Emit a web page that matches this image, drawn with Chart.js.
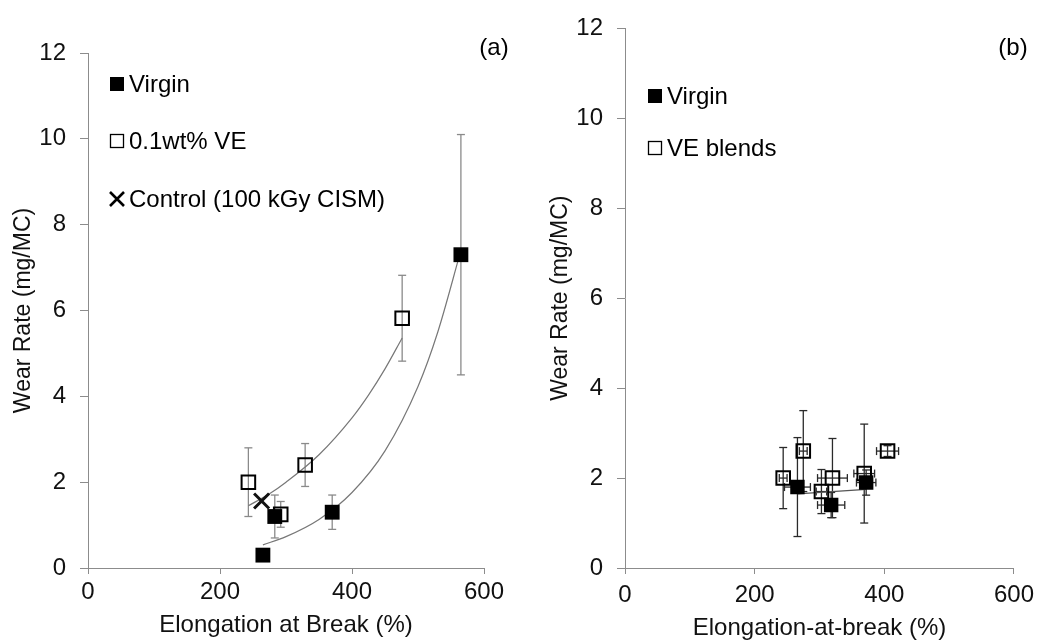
<!DOCTYPE html>
<html>
<head>
<meta charset="utf-8">
<script src="https://cdn.jsdelivr.net/npm/chart.js@4.4.0/dist/chart.umd.min.js"></script>
<style>
  html, body { margin: 0; padding: 0; background: #fff; }
  #wrap { position: relative; width: 1041px; height: 640px; }
  .panel { position: absolute; top: 0; height: 640px; }
</style>
</head>
<body>
<div id="wrap">
  <div class="panel" style="left:0;width:520px"><canvas id="chartA" width="520" height="640"></canvas></div>
  <div class="panel" style="left:520px;width:521px"><canvas id="chartB" width="521" height="640"></canvas></div>
</div>
<script>
// ---- panel (a) ----
const virginA_x = [265, 283, 370, 565];
const virginA_y = [0.3, 1.2, 1.3, 7.3];
const virginA_err = [0, 0.5, 0.4, 2.8];

const veA_x = [243, 292, 329, 476];
const veA_y = [2.0, 1.25, 2.4, 5.82];
const veA_err = [0.8, 0.3, 0.5, 1.0];

const controlA_x = [263];
const controlA_y = [1.56];

// trend curves
const virginTrend_x = [265, 300, 350, 400, 450, 500, 530, 565];
const virginTrend_y = [0.54, 0.73, 1.13, 1.76, 2.73, 4.23, 5.5, 7.4];
const veTrend_x = [243, 275, 300, 350, 400, 425, 450, 476];
const veTrend_y = [1.45, 1.73, 2.0, 2.64, 3.5, 4.03, 4.64, 5.36];

// ---- panel (b) ----
const virginB_x = [266, 318, 372];
const virginB_y = [1.8, 1.4, 1.9];
const virginB_yErr = [1.1, 0.28, 0.28];
const virginB_xErr = [20, 21, 15];

const veB_x = [244, 275, 303, 320, 369, 405];
const veB_y = [2.0, 2.6, 1.7, 2.0, 2.1, 2.6];
const veB_yErr = [0.68, 0.9, 0.49, 0.88, 1.1, 0.12];
const veB_xErr = [6, 6, 8, 23, 16, 17];

const virginBTrend_x = [266, 372];
const virginBTrend_y = [1.65, 1.75];

const xTicks = [0, 200, 400, 600];
const yTicks = [0, 2, 4, 6, 8, 10, 12];

const FONT = "'Liberation Sans', Arial, sans-serif";
const AXIS_GREY = '#8c8c8c';
const pts = (xs, ys) => xs.map((v, i) => ({ x: v, y: ys[i] }));

const errorBars = {
  id: 'errorBars',
  beforeDatasetsDraw(chart) {
    const { ctx, scales: { x, y } } = chart;
    const seg = (a, b, c, d) => { ctx.beginPath(); ctx.moveTo(a, b); ctx.lineTo(c, d); ctx.stroke(); };
    chart.data.datasets.forEach((ds) => {
      if (!ds.yErr && !ds.xErr) return;
      ctx.save();
      ctx.strokeStyle = ds.errColor;
      ctx.lineWidth = 1.3;
      const cap = 4;
      ds.data.forEach((p, i) => {
        const px = x.getPixelForValue(p.x);
        const py = y.getPixelForValue(p.y);
        const ey = ds.yErr ? ds.yErr[i] : 0;
        const ex = ds.xErr ? ds.xErr[i] : 0;
        if (ey) {
          const t = y.getPixelForValue(p.y + ey);
          const b = y.getPixelForValue(p.y - ey);
          seg(px, t, px, b);
          seg(px - cap, t, px + cap, t);
          seg(px - cap, b, px + cap, b);
        }
        if (ex) {
          const l = x.getPixelForValue(p.x - ex);
          const r = x.getPixelForValue(p.x + ex);
          seg(l, py, r, py);
          seg(l, py - cap, l, py + cap);
          seg(r, py - cap, r, py + cap);
        }
      });
      ctx.restore();
    });
  }
};

const panelLegend = {
  id: 'panelLegend',
  afterDraw(chart, args, opts) {
    const ctx = chart.ctx;
    ctx.save();
    ctx.font = '24px ' + FONT;
    ctx.fillStyle = '#000';
    ctx.textBaseline = 'middle';
    ctx.textAlign = 'left';
    opts.items.forEach((it) => {
      const sx = opts.x, sy = it.y;
      if (it.kind === 'filled') {
        ctx.fillRect(sx, sy - 7, 14, 14);
      } else if (it.kind === 'open') {
        ctx.lineWidth = 1.3;
        ctx.strokeStyle = '#000';
        ctx.strokeRect(sx + 0.5, sy - 6.5, 13, 13);
      } else {
        ctx.lineWidth = 2.6;
        ctx.strokeStyle = '#000';
        ctx.beginPath();
        ctx.moveTo(sx, sy - 7); ctx.lineTo(sx + 14, sy + 7);
        ctx.moveTo(sx + 14, sy - 7); ctx.lineTo(sx, sy + 7);
        ctx.stroke();
      }
      ctx.fillText(it.text, sx + 19, sy + 1);
    });
    ctx.textAlign = 'center';
    ctx.fillText(opts.tag.text, opts.tag.x, opts.tag.y);
    ctx.restore();
  }
};

function axisOptions(cfg) {
  const tickFont = { family: FONT, size: 24 };
  return {
    x: {
      type: 'linear', min: 0, max: 600,
      afterBuildTicks: (s) => { s.ticks = xTicks.map((v) => ({ value: v })); },
      ticks: { font: tickFont, color: '#111', padding: cfg.xTickPad, maxRotation: 0 },
      grid: { drawOnChartArea: false, tickLength: 6, color: AXIS_GREY },
      border: { color: AXIS_GREY, width: 1 },
      title: { display: true, text: cfg.xTitle, color: '#111',
               font: { family: FONT, size: 24, lineHeight: 1 }, padding: { top: 0, bottom: cfg.xTitlePad } },
      afterFit: (s) => { s.height = 72; }
    },
    y: {
      type: 'linear', min: 0, max: 12,
      afterBuildTicks: (s) => { s.ticks = yTicks.map((v) => ({ value: v })); },
      ticks: { font: tickFont, color: '#111', padding: 14 },
      grid: { drawOnChartArea: false, tickLength: 8, color: AXIS_GREY },
      border: { color: AXIS_GREY, width: 1 },
      title: { display: true, text: 'Wear Rate (mg/MC)', color: '#111',
               font: { family: FONT, size: 23, lineHeight: 1.2 }, padding: { top: cfg.yTitlePad, bottom: 0 } },
      afterFit: (s) => { s.width = cfg.yWidth; }
    }
  };
}

function baseOptions(cfg) {
  return {
    responsive: false,
    animation: false,
    devicePixelRatio: 1,
    layout: { padding: { left: 0, right: cfg.padRight, top: cfg.padTop, bottom: 0 } },
    plugins: {
      legend: { display: false },
      tooltip: { enabled: false },
      panelLegend: cfg.legend
    },
    scales: axisOptions(cfg)
  };
}

new Chart(document.getElementById('chartA'), {
  type: 'scatter',
  data: {
    datasets: [
      { label: 'Control (100 kGy CISM)', data: pts(controlA_x, controlA_y),
        pointStyle: 'crossRot', pointRadius: 10.6, borderColor: '#111', borderWidth: 3, backgroundColor: '#111' },
      { label: 'Virgin', data: pts(virginA_x, virginA_y), yErr: virginA_err, errColor: '#8a8a8a',
        pointStyle: 'rect', pointRadius: 10.5, backgroundColor: '#000', borderColor: '#000', borderWidth: 0 },
      { label: '0.1wt% VE', data: pts(veA_x, veA_y), yErr: veA_err, errColor: '#8a8a8a',
        pointStyle: 'rect', pointRadius: 9.6, backgroundColor: 'rgba(0,0,0,0)', borderColor: '#000', borderWidth: 2 },
      { label: 'Virgin trend', data: pts(virginTrend_x, virginTrend_y), showLine: true,
        cubicInterpolationMode: 'monotone', pointRadius: 0, borderColor: '#777', borderWidth: 1.2 },
      { label: 'VE trend', data: pts(veTrend_x, veTrend_y), showLine: true,
        cubicInterpolationMode: 'monotone', pointRadius: 0, borderColor: '#777', borderWidth: 1.2 }
    ]
  },
  options: baseOptions({
    padRight: 36, padTop: 53, yWidth: 88, xTickPad: 4, xTitlePad: 3, yTitlePad: 9.5,
    xTitle: 'Elongation at Break (%)',
    legend: {
      x: 110,
      items: [
        { kind: 'filled', text: 'Virgin', y: 84 },
        { kind: 'open', text: '0.1wt% VE', y: 141 },
        { kind: 'cross', text: 'Control (100 kGy CISM)', y: 199 }
      ],
      tag: { text: '(a)', x: 494, y: 48 }
    }
  }),
  plugins: [errorBars, panelLegend]
});

new Chart(document.getElementById('chartB'), {
  type: 'scatter',
  data: {
    datasets: [
      { label: 'Virgin', data: pts(virginB_x, virginB_y), yErr: virginB_yErr, xErr: virginB_xErr, errColor: '#2a2a2a',
        pointStyle: 'rect', pointRadius: 10.2, backgroundColor: '#000', borderColor: '#000', borderWidth: 0 },
      { label: 'VE blends', data: pts(veB_x, veB_y), yErr: veB_yErr, xErr: veB_xErr, errColor: '#2a2a2a',
        pointStyle: 'rect', pointRadius: 9.6, backgroundColor: 'rgba(0,0,0,0)', borderColor: '#000', borderWidth: 2 },
      { label: 'Virgin trend', data: pts(virginBTrend_x, virginBTrend_y), showLine: true,
        pointRadius: 0, borderColor: '#555', borderWidth: 1.2 }
    ]
  },
  options: baseOptions({
    padRight: 22, padTop: 20, yWidth: 105, xTickPad: 7, xTitlePad: 0, yTitlePad: 27,
    xTitle: 'Elongation-at-break (%)',
    legend: {
      x: 128,
      items: [
        { kind: 'filled', text: 'Virgin', y: 96 },
        { kind: 'open', text: 'VE blends', y: 148 }
      ],
      tag: { text: '(b)', x: 493, y: 48 }
    }
  }),
  plugins: [errorBars, panelLegend]
});
</script>
</body>
</html>
